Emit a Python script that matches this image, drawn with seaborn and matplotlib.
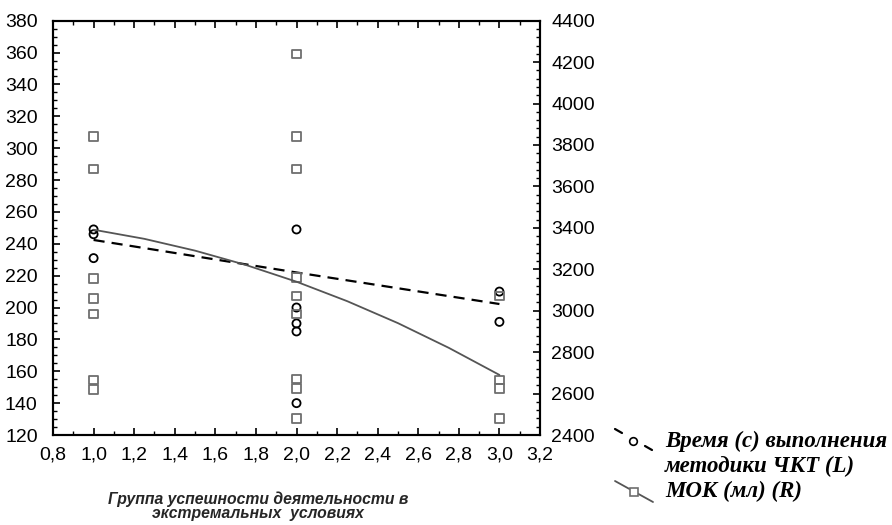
import numpy as np
import pandas as pd
import matplotlib
matplotlib.use("Agg")
import matplotlib.pyplot as plt
import seaborn as sns
from matplotlib.ticker import AutoMinorLocator, FuncFormatter
from matplotlib.lines import Line2D

# ---------------- data ----------------
time_group = [1, 1, 1, 2, 2, 2, 2, 2, 3, 3]
time_sec = [249, 246, 231, 249, 200, 190, 185, 140, 210, 191]

mok_group = [1, 1, 1, 1, 1, 1, 1,
             2, 2, 2, 2, 2, 2, 2, 2, 2,
             3, 3, 3, 3]
mok_ml = [3840, 3685, 3155, 3060, 2985, 2665, 2620,
          4240, 3840, 3685, 3160, 3070, 2985, 2670, 2625, 2480,
          3070, 2665, 2625, 2480]

time_fit_x = [1.0, 2.0, 3.0]
time_fit = [242.4, 222.0, 202.2]
mok_fit_x = [1.0, 1.25, 1.5, 1.75, 2.0, 2.25, 2.5, 2.75, 3.0]
mok_fit = [3391, 3347, 3290, 3221, 3140, 3046, 2940, 2821, 2690]

x_ticks = [0.8, 1.0, 1.2, 1.4, 1.6, 1.8, 2.0, 2.2, 2.4, 2.6, 2.8, 3.0, 3.2]
left_ticks = list(range(120, 381, 20))
right_ticks = list(range(2400, 4401, 200))

xlabel = "Группа успешности деятельности в\nэкстремальных  условиях"
leg_time = ["Время (с) выполнения", "методики ЧКТ (L)"]
leg_mok = "МОК (мл) (R)"

# ---------------- style ----------------
sns.set_style("ticks")
plt.rcParams["font.family"] = ["Liberation Sans", "DejaVu Sans"]

W, H = 892, 525
fig = plt.figure(figsize=(W / 100, H / 100), dpi=100)
ax = fig.add_axes([53 / W, 1 - 435 / H, (540 - 53) / W, (435 - 20.7) / H])
ax2 = ax.twinx()

sq_col = "#6e6e6e"

# left series: time
sns.scatterplot(x=time_group, y=time_sec, ax=ax, marker="o", s=34,
                facecolor="none", edgecolor="black", linewidth=1.3, zorder=4)
sns.lineplot(x=time_fit_x, y=time_fit, ax=ax, color="black", lw=1.6,
             linestyle=(0, (5, 3.2)), zorder=5)

# right series: MOK
sns.scatterplot(x=mok_group, y=mok_ml, ax=ax2, marker="s", s=38,
                facecolor="none", edgecolor=sq_col, linewidth=1.3, zorder=3)
sns.lineplot(x=mok_fit_x, y=mok_fit, ax=ax2, color="#555555", lw=1.3, zorder=5)

# axes limits / ticks
ax.set_xlim(0.8, 3.2)
ax.set_ylim(120, 380)
ax2.set_ylim(2400, 4400)
ax.set_xticks(x_ticks)
ax.set_yticks(left_ticks)
ax2.set_yticks(right_ticks)
ax.xaxis.set_minor_locator(AutoMinorLocator(2))
ax.yaxis.set_minor_locator(AutoMinorLocator(4))
ax2.yaxis.set_minor_locator(AutoMinorLocator(5))
ax.xaxis.set_major_formatter(FuncFormatter(lambda v, p: f"{v:.1f}".replace(".", ",")))
ax.yaxis.set_major_formatter(FuncFormatter(lambda v, p: f"{v:.0f}"))
ax2.yaxis.set_major_formatter(FuncFormatter(lambda v, p: f"{v:.0f}"))

for a in (ax, ax2):
    for s in a.spines.values():
        s.set_linewidth(1.5)
        s.set_color("black")
        s.set_visible(True)

ax.tick_params(axis="x", which="both", direction="in", top=True, bottom=True,
               colors="black", labelsize=14, pad=8)
ax.tick_params(axis="x", which="major", length=5, width=1.2)
ax.tick_params(axis="x", which="minor", length=3, width=1.0)
ax.tick_params(axis="y", which="both", direction="in", left=True, right=False,
               colors="black", labelsize=14, pad=11)
ax.tick_params(axis="y", which="major", length=5, width=1.2)
ax.tick_params(axis="y", which="minor", length=3, width=1.0)
ax2.tick_params(axis="y", which="both", direction="in", right=True, left=False,
                colors="black", labelsize=14, pad=8)
ax2.tick_params(axis="y", which="major", length=5, width=1.2)
ax2.tick_params(axis="y", which="minor", length=3, width=1.0)

ax.set_ylabel("")
ax2.set_ylabel("")
ax.set_xlabel(xlabel, fontsize=11.3, fontweight="bold", fontstyle="italic",
              linespacing=0.95, va="top")
ax.xaxis.set_label_coords((258 - 53) / (540 - 53), -(491 - 435) / (435 - 20.7))
ax.grid(False)
ax2.grid(False)

# ---------------- manual legend ----------------
def fx(px):
    return px / W

def fy(py):
    return 1 - py / H

serif = ["Liberation Serif", "DejaVu Serif"]
# time handle: short dash, circle, short dash (diagonal)
fig.add_artist(Line2D([fx(615), fx(622)], [fy(429), fy(433)], color="black", lw=1.6))
fig.add_artist(Line2D([fx(645), fx(652)], [fy(446), fy(450)], color="black", lw=1.6))
fig.add_artist(Line2D([fx(633)], [fy(441)], marker="o", ms=5.5, mfc="white",
                      mec="black", mew=1.2, ls="none"))
# MOK handle: solid diagonal with square
fig.add_artist(Line2D([fx(615), fx(653)], [fy(481), fy(502)], color="#555555", lw=1.3))
fig.add_artist(Line2D([fx(634)], [fy(491.5)], marker="s", ms=6, mfc="white",
                      mec=sq_col, mew=1.2, ls="none"))

for txt, py in [(leg_time[0], 441), (leg_time[1], 466), (leg_mok, 491)]:
    fig.text(fx(665), fy(py), txt, family=serif, fontsize=16.5, fontweight="bold",
             fontstyle="italic", va="center", ha="left", color="black")

fig.savefig("out.png", dpi=100)
